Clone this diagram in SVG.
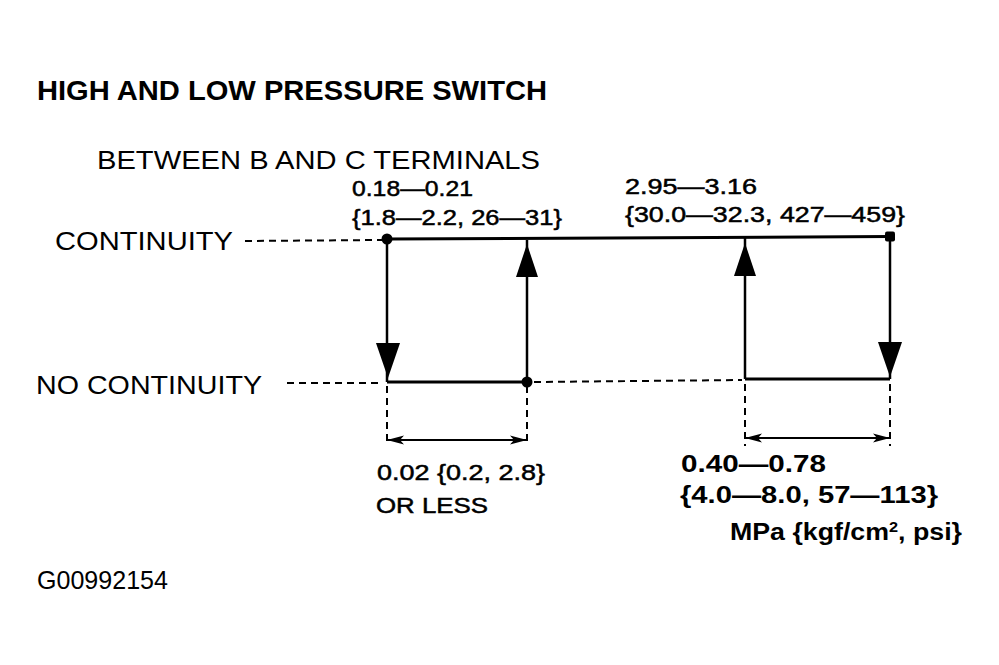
<svg xmlns="http://www.w3.org/2000/svg" width="999" height="665" viewBox="0 0 999 665">
<style>
text{font-family:"Liberation Sans",Arial,sans-serif;fill:#000}
.lbl{font-size:25px}
.num{font-size:22px;stroke:#000;stroke-width:0.5}
.numb{font-size:23px;font-weight:bold}
.title{font-size:28px;font-weight:bold}
.solid{stroke:#000;stroke-width:3;fill:none}
.vert{stroke:#000;stroke-width:2.5;fill:none}
.dash{stroke:#000;stroke-width:2;stroke-dasharray:7 5;fill:none}
.dim{stroke:#000;stroke-width:2;fill:none;marker-start:url(#dimL);marker-end:url(#dimR)}
</style>
<defs>
<marker id="dimR" markerWidth="18" markerHeight="12" refX="17" refY="6" orient="auto" markerUnits="userSpaceOnUse">
<path d="M0,1.5 L17,6 L0,10.5 L4,6 Z" fill="#000"/>
</marker>
<marker id="dimL" markerWidth="18" markerHeight="12" refX="1" refY="6" orient="auto" markerUnits="userSpaceOnUse">
<path d="M18,1.5 L1,6 L18,10.5 L14,6 Z" fill="#000"/>
</marker>
<path id="arrowDown" d="M-12,0 L12,0 L0,35 Z" fill="#000"/>
<path id="arrowUp" d="M-11,0 L11,0 L0,-33 Z" fill="#000"/>
</defs>
<rect width="999" height="665" fill="#fff"/>

<g id="title">
<text class="title" x="37" y="100" textLength="510" lengthAdjust="spacingAndGlyphs">HIGH AND LOW PRESSURE SWITCH</text>
</g>
<g id="subtitle">
<text class="lbl" x="97" y="169" textLength="443" lengthAdjust="spacingAndGlyphs">BETWEEN B AND C TERMINALS</text>
</g>
<g id="label-continuity">
<text class="lbl" x="55" y="250" textLength="178" lengthAdjust="spacingAndGlyphs">CONTINUITY</text>
</g>
<g id="label-no-continuity">
<text class="lbl" x="36" y="394" textLength="226" lengthAdjust="spacingAndGlyphs">NO CONTINUITY</text>
</g>

<g id="connectors">
<line class="dash" x1="245" y1="241" x2="382" y2="240"/>
<line class="dash" x1="287" y1="383" x2="382" y2="383"/>
<line class="dash" x1="534" y1="382" x2="742" y2="380"/>
<line class="solid" x1="387" y1="239" x2="890" y2="236.5"/>
<line class="solid" x1="387" y1="382" x2="527" y2="382"/>
<line class="solid" x1="745" y1="379" x2="890" y2="379"/>
<line class="vert" x1="387" y1="239" x2="387" y2="382"/>
<line class="vert" x1="527" y1="382" x2="527" y2="240"/>
<line class="vert" x1="745" y1="379" x2="745" y2="238"/>
<line class="vert" x1="890" y1="237" x2="890" y2="379"/>
<use href="#arrowDown" x="388" y="343"/>
<use href="#arrowUp" x="527" y="277"/>
<use href="#arrowUp" x="745" y="276"/>
<use href="#arrowDown" x="890" y="342"/>
<line class="dash" x1="387" y1="386" x2="387" y2="446" stroke-dasharray="9 6"/>
<line class="dash" x1="527" y1="386" x2="527" y2="446" stroke-dasharray="9 6"/>
<line class="dash" x1="745" y1="384" x2="745" y2="446" stroke-dasharray="9 6"/>
<line class="dash" x1="890" y1="384" x2="890" y2="446" stroke-dasharray="9 6"/>
<line class="dim" x1="387" y1="440" x2="527" y2="440"/>
<line class="dim" x1="745" y1="438" x2="890" y2="438"/>
</g>

<g id="points">
<circle cx="387" cy="239" r="5.5" fill="#000"/>
<circle cx="527" cy="382" r="5.5" fill="#000"/>
<rect x="885" y="231.5" width="10" height="10" rx="2" fill="#000"/>
</g>

<g id="low-on-value">
<text class="num" x="352" y="196" textLength="121" lengthAdjust="spacingAndGlyphs">0.18—0.21</text>
<text class="num" x="352" y="225" textLength="210" lengthAdjust="spacingAndGlyphs">{1.8—2.2, 26—31}</text>
</g>
<g id="high-off-value">
<text class="num" x="625" y="194" textLength="132" lengthAdjust="spacingAndGlyphs">2.95—3.16</text>
<text class="num" x="625" y="222" textLength="280" lengthAdjust="spacingAndGlyphs">{30.0—32.3, 427—459}</text>
</g>
<g id="low-hysteresis">
<text class="num" x="377" y="480" textLength="168" lengthAdjust="spacingAndGlyphs">0.02 {0.2, 2.8}</text>
<text class="num" x="376" y="513" textLength="112" lengthAdjust="spacingAndGlyphs">OR LESS</text>
</g>
<g id="high-hysteresis">
<text class="numb" x="681" y="472" textLength="145" lengthAdjust="spacingAndGlyphs">0.40—0.78</text>
<text class="numb" x="680" y="503" textLength="258" lengthAdjust="spacingAndGlyphs">{4.0—8.0, 57—113}</text>
<text class="numb" x="730" y="540" font-size="21" textLength="232" lengthAdjust="spacingAndGlyphs">MPa {kgf/cm<tspan font-size="14" dy="-8">2</tspan><tspan dy="8">, psi}</tspan></text>
</g>
<g id="code">
<text class="lbl" x="37" y="589" textLength="131" lengthAdjust="spacingAndGlyphs">G00992154</text>
</g>
</svg>
